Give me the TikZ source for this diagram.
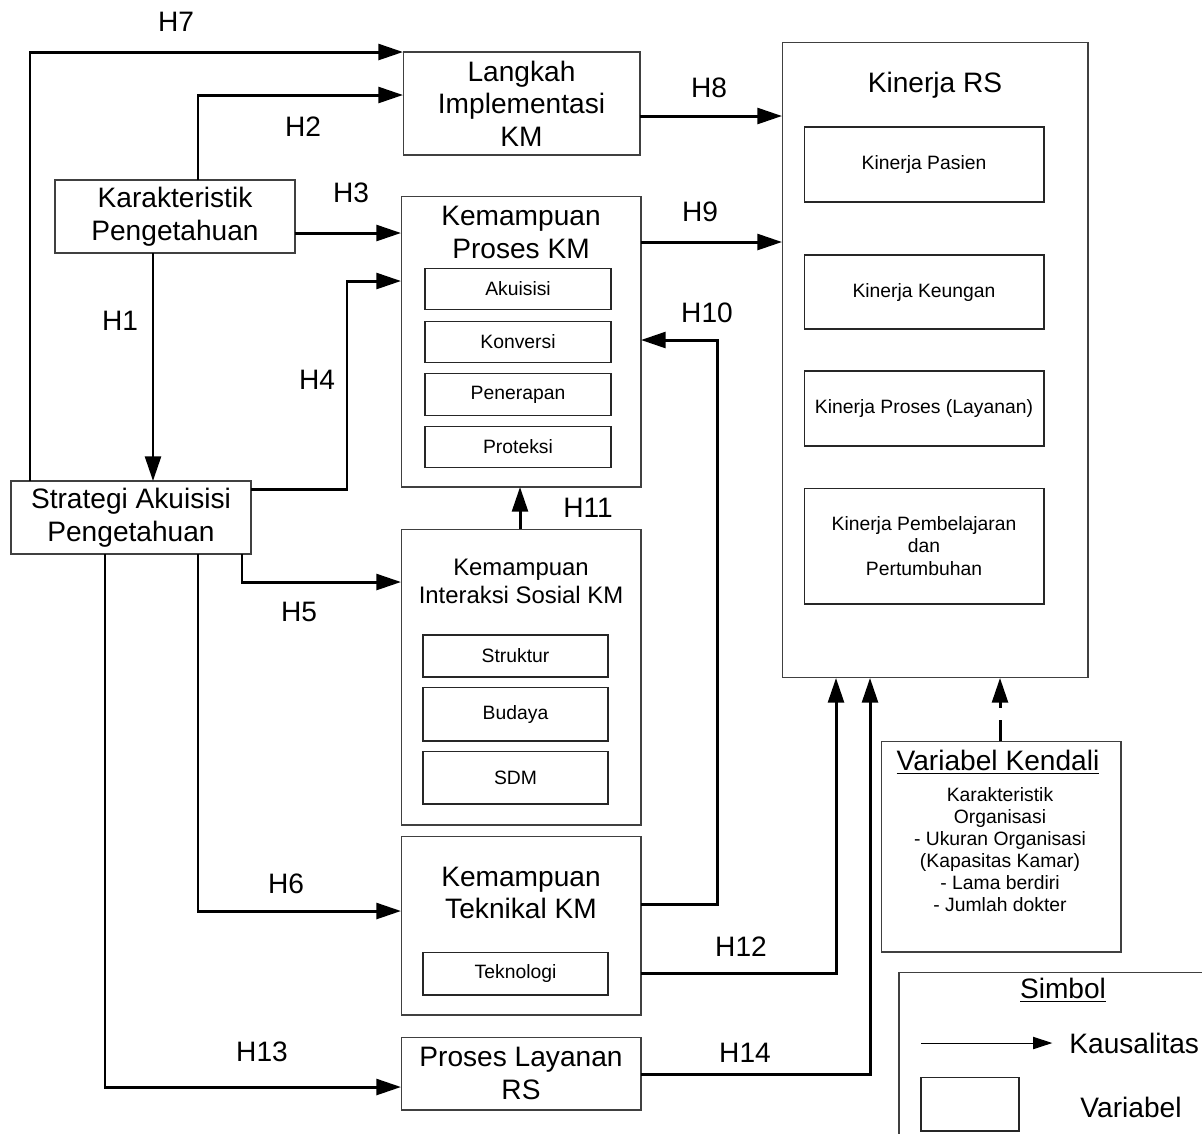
\documentclass[tikz,border=0pt]{standalone}
\usepackage{fontspec}
\setmainfont{Liberation Sans}
\usetikzlibrary{arrows.meta, positioning}
\newcommand{\titlefont}{\fontsize{16}{18.5}\selectfont}
\newcommand{\midfont}{\fontsize{13.6}{16}\selectfont}
\newcommand{\smallfont}{\fontsize{11}{12.6}\selectfont}
\tikzset{box/.style={draw=black!75,line width=0.6pt,inner sep=0pt,outer sep=0pt,align=center,font=\titlefont},
         subbox/.style={draw=black!85,line width=0.6pt,inner sep=0pt,outer sep=0pt,align=center,font=\smallfont},
         hyp/.style={line width=1.7pt,-{Triangle[length=14pt,width=9pt]}},
         hlabel/.style={font=\titlefont,inner sep=0pt}}
\begin{document}
\begin{tikzpicture}[x=0.02cm,y=-0.02cm]
        \useasboundingbox (0,0) rectangle (1202,1134);
        % variabel
        \node[box,minimum width=4.8cm,minimum height=1.46cm](karakter)at(175,216.5){Karakteristik\\Pengetahuan};
        \node[box,minimum width=4.8cm,minimum height=1.46cm](strategi)at(131,517.5){Strategi Akuisisi\\Pengetahuan};
        \node[box,minimum width=4.74cm,minimum height=2.06cm](langkah)at(521.5,103.5){Langkah\\Implementasi\\KM};
        \node[box,minimum width=4.8cm,minimum height=5.82cm](proses)at(521,341.5){};
        \node[box,draw=none](proses-t)at(521,232.5){Kemampuan\\Proses KM};
        \node[subbox,minimum width=3.72cm,minimum height=0.83cm](akuisisi)at(518,289){Akuisisi};
        \node[subbox,minimum width=3.72cm,minimum height=0.83cm](konversi)at(518,342){Konversi};
        \node[subbox,minimum width=3.72cm,minimum height=0.83cm](penerapan)at(518,394.5){Penerapan};
        \node[subbox,minimum width=3.72cm,minimum height=0.83cm](proteksi)at(518,447){Proteksi};
        \node[box,minimum width=4.8cm,minimum height=5.92cm](interaksi)at(521,677){};
        \node[box,draw=none,font=\midfont](interaksi-t)at(521,581){Kemampuan\\Interaksi Sosial KM};
        \node[subbox,minimum width=3.7cm,minimum height=0.84cm](struktur)at(515.5,656){Struktur};
        \node[subbox,minimum width=3.7cm,minimum height=1.08cm](budaya)at(515.5,714){Budaya};
        \node[subbox,minimum width=3.7cm,minimum height=1.06cm](sdm)at(515.5,777.5){SDM};
        \node[box,minimum width=4.8cm,minimum height=3.58cm](teknikal)at(521,925.5){};
        \node[box,draw=none](teknikal-t)at(521,893){Kemampuan\\Teknikal KM};
        \node[subbox,minimum width=3.7cm,minimum height=0.86cm](teknologi)at(515.5,973.5){Teknologi};
        \node[box,minimum width=4.8cm,minimum height=1.46cm](layanan)at(521,1073.5){Proses Layanan\\RS};
        \node[box,minimum width=6.12cm,minimum height=12.72cm](kinerja)at(935,360){};
        \node[box,draw=none](kinerja-t)at(935,85){Kinerja RS};
        \node[subbox,minimum width=4.8cm,minimum height=1.5cm](pasien)at(924,164.5){Kinerja Pasien};
        \node[subbox,minimum width=4.8cm,minimum height=1.48cm](keungan)at(924,292){Kinerja Keungan};
        \node[subbox,minimum width=4.8cm,minimum height=1.5cm](layanan-k)at(924,408.5){Kinerja Proses (Layanan)};
        \node[subbox,minimum width=4.8cm,minimum height=2.32cm](belajar)at(924,546){Kinerja Pembelajaran\\dan\\Pertumbuhan};
        \node[box,minimum width=4.8cm,minimum height=4.22cm](kendali)at(1001,846.5){};
        \node[box,draw=none](kendali-t)at(998,762){\underline{Variabel Kendali}};
        \node[box,draw=none,font=\smallfont,anchor=north](kendali-i)at(1000,787){Karakteristik\\Organisasi\\- Ukuran Organisasi\\(Kapasitas Kamar)\\- Lama berdiri\\- Jumlah dokter};
        % hipotesis
        \draw[hyp](strategi.north -| 30,0) |- (langkah.north west);
        \draw[hyp](karakter.north -| 198,0) |- (langkah.west |- 0,95);
        \draw[hyp](karakter.east |- 0,233) -- (proses.west |- 0,233);
        \draw[hyp](karakter.south -| 153,0) -- (strategi.north -| 153,0);
        \draw[hyp](strategi.east |- 0,489) -- (347,489) |- (proses.west |- 0,281);
        \draw[hyp](strategi.south -| 242,0) |- (interaksi.west |- 0,582);
        \draw[hyp](strategi.south -| 198,0) |- (teknikal.west |- 0,911);
        \draw[hyp](strategi.south -| 105,0) |- (layanan.west |- 0,1087);
        \draw[hyp](langkah.east |- 0,116) -- (kinerja.west |- 0,116);
        \draw[hyp](proses.east |- 0,242) -- (kinerja.west |- 0,242);
        \draw[hyp](teknikal.east |- 0,904) -- (717,904) |- (proses.east |- 0,340);
        \draw[hyp](interaksi.north -| 520,0) -- (proses.south -| 520,0);
        \draw[hyp](teknikal.east |- 0,973) -| (kinerja.south -| 836,0);
        \draw[hyp](layanan.east |- 0,1074) -| (kinerja.south -| 870,0);
        \draw[hyp,dash pattern=on 12pt off 7pt](kendali.north -| 1000,0) -- (kinerja.south -| 1000,0);
        \node[hlabel](h1)at(120,321){H1};
        \node[hlabel](h2)at(303,127){H2};
        \node[hlabel](h3)at(351,193){H3};
        \node[hlabel](h4)at(317,380){H4};
        \node[hlabel](h5)at(299,612){H5};
        \node[hlabel](h6)at(286,884){H6};
        \node[hlabel](h7)at(176,22){H7};
        \node[hlabel](h8)at(709,88){H8};
        \node[hlabel](h9)at(700,212){H9};
        \node[hlabel](h10)at(707,313){H10};
        \node[hlabel](h11)at(588,508){H11};
        \node[hlabel](h12)at(741,947){H12};
        \node[hlabel](h13)at(262,1052){H13};
        \node[hlabel](h14)at(745,1053){H14};
        % simbol
        \draw[draw=black!75,line width=0.6pt](1202,972) -| (899,1134);
        \node[hlabel](simbol)at(1063,990){\underline{Simbol}};
        \coordinate(kaus-a)at(921,1043);
        \node[hlabel,anchor=west](kaus)at(1069,1043){Kausalitas};
        \draw[line width=0.6pt,shorten >=9.5pt,-{Triangle[length=11pt,width=7pt]}](kaus-a) -- (kaus.west);
        \node[subbox,minimum width=1.96cm,minimum height=1.08cm](var-box)at(970,1104){};
        \node[hlabel](var)at(1131,1107){Variabel};
    \end{tikzpicture}
\end{document}
